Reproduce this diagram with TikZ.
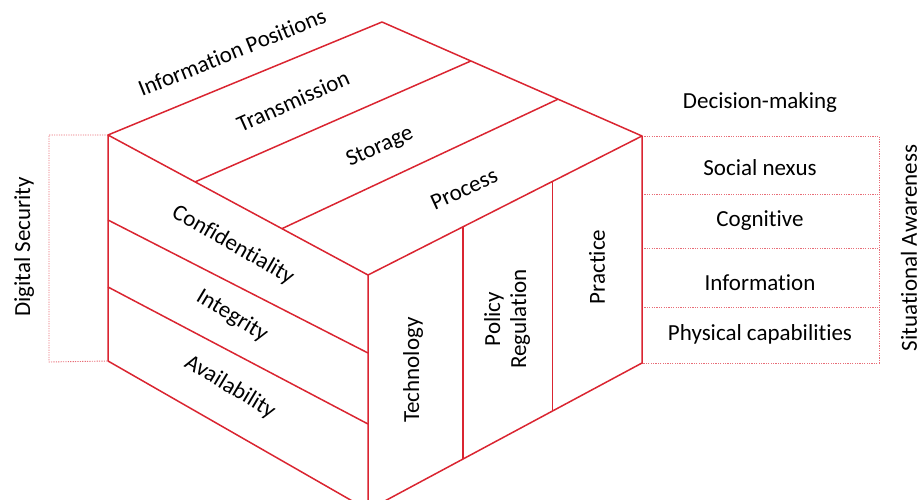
\documentclass[tikz,border=0pt]{standalone}
\usepackage{fontspec}
\setmainfont{Carlito}[Ligatures={NoCommon,NoRequired,NoContextual,NoRare},Contextuals=NoAlternate]
\usetikzlibrary{calc}
\definecolor{cubered}{RGB}{218,37,49}
\definecolor{dotred}{RGB}{232,110,120}
\tikzset{
  edge/.style={draw=cubered, line width=1.5pt, line join=round},
  dotline/.style={draw=dotred, line width=0.9pt, dash pattern=on 1.2pt off 1.2pt},
  lbl/.style={font=\fontsize{23}{26}\selectfont, inner sep=0pt, text=black},
}
\begin{document}
\begin{tikzpicture}[x=1pt,y=-1pt]
\useasboundingbox (0,0) rectangle (922,500);
\clip (0,0) rectangle (922,500);
% cube vertices
\coordinate (T) at (382,22);
\coordinate (L) at (108,135);
\coordinate (R) at (642,136);
\coordinate (F) at (368,275);
\coordinate (BL) at (108,361);
\coordinate (BR) at (642,363);
\coordinate (BF) at (368,510);
% top dividers
\coordinate (a1) at ($(T)!0.342!(R)$);
\coordinate (a2) at ($(L)!0.335!(F)$);
\coordinate (b1) at ($(T)!0.677!(R)$);
\coordinate (b2) at ($(L)!0.669!(F)$);
% left dividers
\coordinate (l1) at (108,220);
\coordinate (l1f) at (368,353);
\coordinate (l2) at (108,287);
\coordinate (l2f) at (368,424);
% right dividers
\coordinate (r1) at ($(F)!0.347!(R)$);
\coordinate (r1b) at ($(BF)!0.347!(BR)$);
\coordinate (r2) at ($(F)!0.6734!(R)$);
\coordinate (r2b) at ($(BF)!0.6734!(BR)$);
% dotted frames
\coordinate (dl1) at (49,135);
\coordinate (dl2) at (49,362);
\draw[dotline] (L) -- (dl1) -- (dl2) -- (BL);
\coordinate (dr1) at (879,136);
\coordinate (dr5) at (879,363);
\coordinate (h2a) at (642,194); \coordinate (h2b) at (879,194);
\coordinate (h3a) at (642,248); \coordinate (h3b) at (879,248);
\coordinate (h4a) at (642,307); \coordinate (h4b) at (879,307);
\draw[dotline] (R) -- (dr1) -- (dr5) -- (BR);
\draw[dotline] (h2a) -- (h2b);
\draw[dotline] (h3a) -- (h3b);
\draw[dotline] (h4a) -- (h4b);
% cube
\draw[edge] (L) -- (T) -- (R) -- (F) -- cycle;
\draw[edge] (L) -- (BL) -- (BF) -- (F);
\draw[edge] (R) -- (BR) -- (BF);
\draw[edge] (a1) -- (a2);
\draw[edge] (b1) -- (b2);
\draw[edge] (l1) -- (l1f);
\draw[edge] (l2) -- (l2f);
\draw[edge] (r1) -- (r1b);
\draw[edge] (r2) -- (r2b);
% labels
\node[lbl, rotate=22] (ip) at (232,52) {Information Positions};
\node[lbl, rotate=24] (tr) at (293,101) {Transmission};
\node[lbl, rotate=24.5] (st) at (380,147) {Storage};
\node[lbl, rotate=24.5] (pr) at (464,189) {Process};
\node[lbl, rotate=-30] (co) at (233,245) {Confidentiality};
\node[lbl, rotate=-31] (in) at (232,316) {Integrity};
\node[lbl, rotate=-31] (av) at (230,387) {Availability};
\node[lbl, rotate=90] (te) at (413,370) {Technology};
\node[lbl, rotate=90, align=center] (po) at (507,319) {Policy\\Regulation};
\node[lbl, rotate=90] (pc) at (597,267) {Practice};
\node[lbl] (dm) at (760,102) {Decision-making};
\node[lbl] (sn) at (760,168) {Social nexus};
\node[lbl] (cg) at (760,221) {Cognitive};
\node[lbl] (if) at (760,283) {Information};
\node[lbl] (ph) at (760,334) {Physical capabilities};
\node[lbl, rotate=90] (ds) at (24,247) {Digital Security};
\node[lbl, rotate=90] (sa) at (909,248) {Situational Awareness};
\end{tikzpicture}
\end{document}
